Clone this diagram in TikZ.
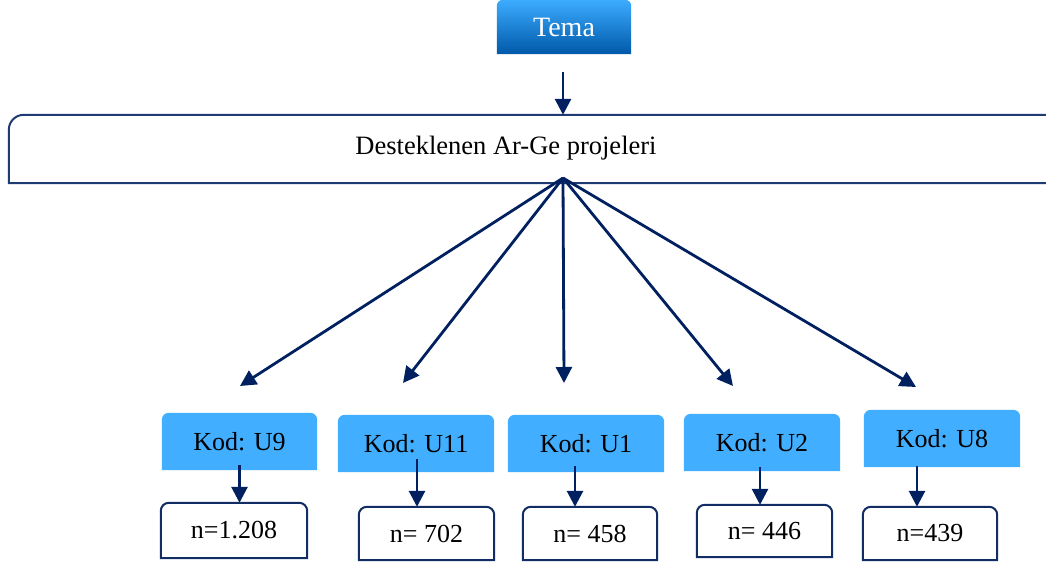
\documentclass[tikz,border=0pt]{standalone}
\usepackage{fontspec}
\setmainfont{Liberation Serif}
\usetikzlibrary{arrows.meta,backgrounds}

\definecolor{arrownavy}{RGB}{0,32,96}
\definecolor{boxnavy}{RGB}{18,45,100}
\definecolor{framenavy}{RGB}{30,60,115}
\definecolor{kodblue}{RGB}{66,174,255}
\definecolor{tematop}{RGB}{60,172,255}
\definecolor{temabottom}{RGB}{0,88,168}

% box with rounded top corners and a square bottom
\newcommand\tabshape[3]{%
  \path[#3] (#1.south west) -- ([yshift=-#2]#1.north west)
    arc[start angle=180,end angle=90,radius=#2]
    -- ([xshift=-#2]#1.north east)
    arc[start angle=90,end angle=0,radius=#2]
    -- (#1.south east) -- cycle;}

\begin{document}
\begin{tikzpicture}[x=1pt,y=1pt,
  every node/.style={inner sep=0pt},
  temabox/.style={minimum width=134pt,minimum height=54pt,text=white,
                  font=\fontsize{28}{32}\selectfont},
  kodbox/.style={minimum width=156pt,minimum height=57pt,
                 font=\fontsize{26}{30}\selectfont},
  nbox/.style={minimum width=135pt,minimum height=53pt,
               font=\fontsize{26}{30}\selectfont},
  arr/.style={draw=arrownavy,line width=2.8pt,
              -{Triangle[length=16pt,width=16pt]}}]
\useasboundingbox (0,0) rectangle (1046,564);

% top level
\node[temabox] (tema) at (564,537) {Tema};
\node[minimum width=1051pt,minimum height=68pt] (proj) at (534.5,415) {};
\node[anchor=base,font=\fontsize{26.5}{30}\selectfont] (projlabel) at (506,409)
  {Desteklenen Ar-Ge projeleri};
\coordinate (hub) at (563,386);

% codes
\node[kodbox,minimum width=155pt] (k9) at (239.5,122.5) {Kod: U9};
\node[kodbox] (k11) at (416,120.5) {Kod: U11};
\node[kodbox] (k1)  at (586,120.5) {Kod: U1};
\node[kodbox] (k2)  at (762,121.5) {Kod: U2};
\node[kodbox] (k8)  at (942,125.5) {Kod: U8};

% counts
\node[nbox,minimum width=146pt,minimum height=55pt] (n9) at (234,33.5) {n=1.208};
\node[nbox] (n11) at (426.5,30.5) {n= 702};
\node[nbox,minimum width=134pt] (n1) at (590,30.5) {n= 458};
\node[nbox,minimum height=52pt] (n2) at (764.5,33) {n= 446};
\node[nbox,minimum width=134pt] (n8) at (930,30.5) {n=439};

% arrow tips of the fan
\coordinate (t9)  at (240,178);
\coordinate (t11) at (403,181);
\coordinate (t1)  at (564,181);
\coordinate (t2)  at (733,178);
\coordinate (t8)  at (916,177);

\begin{scope}[on background layer]
  \tabshape{tema}{6pt}{top color=tematop,bottom color=temabottom}
  \tabshape{proj}{15pt}{draw=framenavy,line width=2pt,fill=white}
  \foreach \k in {k9,k11,k1,k2,k8}{\tabshape{\k}{7pt}{fill=kodblue}}
  \foreach \n in {n9,n11,n1,n2,n8}{\tabshape{\n}{8pt}{draw=boxnavy,line width=2pt,fill=white}}
\end{scope}

% connectors
\draw[arr] ([xshift=-1pt,yshift=-18pt]tema.south) -- ([xshift=-1pt]tema.south |- proj.north);
\foreach \t in {t9,t11,t1,t2,t8}{\draw[arr] (hub) -- (\t);}
\draw[arr] ([yshift=5pt]k9.south) -- (k9.south |- n9.north);
\draw[arr] ([xshift=1pt,yshift=13pt]k11.south) -- ([xshift=1pt]k11.south |- n11.north);
\draw[arr] ([xshift=-11pt,yshift=6pt]k1.south) -- ([xshift=-11pt]k1.south |- n1.north);
\draw[arr] ([xshift=-2pt,yshift=4pt]k2.south) -- ([xshift=-2pt]k2.south |- n2.north);
\draw[arr] ([xshift=-25pt,yshift=1pt]k8.south) -- ([xshift=-25pt]k8.south |- n8.north);
\end{tikzpicture}
\end{document}
